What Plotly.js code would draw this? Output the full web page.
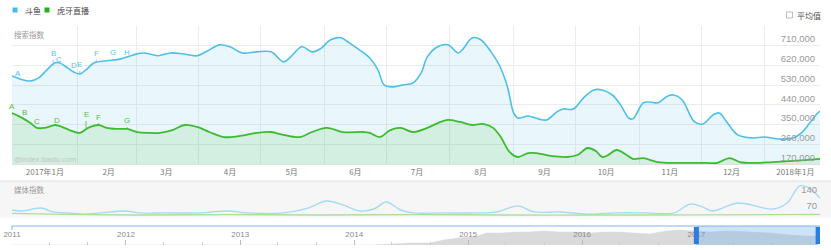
<!DOCTYPE html>
<html><head><meta charset="utf-8">
<script src="https://cdn.plot.ly/plotly-3.0.1.min.js"></script>
<style>html,body{margin:0;padding:0;background:#fff;}#chart{width:831px;height:250px;}</style>
</head><body><div id="chart"></div>
<script>
// ---------- data ----------
const seriesNames = ['斗鱼', '虎牙直播'];

const douyuDates = ['2016-12-16','2016-12-20','2016-12-25','2016-12-29','2017-01-02','2017-01-06','2017-01-08','2017-01-12','2017-01-15','2017-01-18','2017-01-21','2017-01-25','2017-01-31','2017-02-07','2017-02-13','2017-02-18','2017-02-25','2017-03-03','2017-03-09','2017-03-16','2017-03-21','2017-03-27','2017-04-01','2017-04-07','2017-04-14','2017-04-21','2017-04-27','2017-04-30','2017-05-06','2017-05-11','2017-05-15','2017-05-20','2017-05-25','2017-05-29','2017-06-03','2017-06-08','2017-06-12','2017-06-15','2017-06-19','2017-06-24','2017-06-29','2017-07-03','2017-07-06','2017-07-11','2017-07-16','2017-07-21','2017-07-23','2017-07-28','2017-08-01','2017-08-06','2017-08-10','2017-08-14','2017-08-17','2017-08-19','2017-08-24','2017-08-29','2017-09-02','2017-09-07','2017-09-10','2017-09-15','2017-09-20','2017-09-25','2017-09-29','2017-10-04','2017-10-08','2017-10-12','2017-10-14','2017-10-19','2017-10-22','2017-10-26','2017-10-31','2017-11-03','2017-11-07','2017-11-13','2017-11-17','2017-11-22','2017-11-25','2017-11-29','2017-12-04','2017-12-11','2017-12-17','2017-12-24','2017-12-31','2018-01-04','2018-01-08','2018-01-11','2018-01-13'];
const douyuValues = [572000,558000,549000,563000,600000,632000,632000,609000,590000,581000,600000,632000,641000,650000,668000,677000,664000,677000,673000,664000,686000,714000,705000,677000,682000,682000,636000,654000,705000,682000,696000,737000,746000,723000,691000,654000,600000,531000,522000,531000,540000,586000,659000,705000,714000,677000,691000,746000,737000,682000,622000,522000,403000,380000,389000,376000,371000,408000,421000,421000,472000,508000,508000,485000,440000,380000,376000,449000,453000,449000,481000,485000,462000,362000,353000,394000,403000,357000,303000,289000,293000,284000,289000,312000,357000,394000,412000];

const huyaDates = ['2016-12-16','2016-12-20','2016-12-25','2016-12-28','2017-01-01','2017-01-06','2017-01-08','2017-01-13','2017-01-18','2017-01-22','2017-01-27','2017-01-31','2017-02-05','2017-02-10','2017-02-15','2017-02-20','2017-02-26','2017-03-04','2017-03-10','2017-03-16','2017-03-22','2017-03-29','2017-04-06','2017-04-14','2017-04-21','2017-04-27','2017-05-05','2017-05-11','2017-05-18','2017-05-26','2017-06-05','2017-06-08','2017-06-13','2017-06-18','2017-06-23','2017-06-29','2017-07-06','2017-07-11','2017-07-16','2017-07-22','2017-07-28','2017-08-02','2017-08-07','2017-08-11','2017-08-15','2017-08-19','2017-08-24','2017-08-28','2017-09-04','2017-09-12','2017-09-17','2017-09-22','2017-09-26','2017-09-29','2017-10-02','2017-10-06','2017-10-11','2017-10-14','2017-10-19','2017-10-26','2017-11-03','2017-11-11','2017-11-19','2017-11-24','2017-11-30','2017-12-05','2017-12-12','2017-12-21','2017-12-31','2018-01-06','2018-01-13'];
const huyaValues = [403000,385000,357000,335000,335000,348000,344000,325000,312000,335000,348000,335000,330000,330000,316000,312000,312000,325000,348000,339000,316000,293000,298000,312000,316000,303000,293000,316000,335000,316000,316000,312000,293000,325000,335000,316000,335000,357000,371000,362000,348000,353000,335000,289000,225000,202000,220000,220000,207000,202000,211000,243000,229000,202000,211000,234000,211000,193000,197000,179000,175000,175000,175000,175000,197000,179000,175000,179000,184000,188000,193000];

const mediaDouyuDates = ['2016-12-16','2016-12-21','2016-12-30','2017-01-05','2017-01-12','2017-01-20','2017-01-28','2017-02-09','2017-02-16','2017-03-01','2017-03-17','2017-03-31','2017-04-09','2017-04-27','2017-05-09','2017-05-18','2017-05-26','2017-06-03','2017-06-10','2017-06-16','2017-06-23','2017-06-29','2017-07-14','2017-07-30','2017-08-09','2017-08-19','2017-08-27','2017-09-09','2017-09-22','2017-10-06','2017-10-19','2017-11-03','2017-11-11','2017-11-17','2017-11-22','2017-12-04','2017-12-21','2017-12-28','2018-01-03','2018-01-07','2018-01-13'];
const mediaDouyuValues = [54,50,62,46,42,37,42,50,42,42,42,50,42,42,62,91,75,50,58,87,54,42,42,42,46,71,46,46,37,42,42,42,79,66,50,83,58,83,153,149,104];
const mediaHuyaDates = ['2016-12-16','2017-01-10','2017-02-15','2017-04-01','2017-05-15','2017-07-01','2017-08-15','2017-10-01','2017-11-15','2017-12-20','2018-01-13'];
const mediaHuyaValues = [40,36,33,35,33,35,33,33,34,35,36];

const overviewDates = ['2011-01-01','2014-03-01','2014-05-01','2014-07-01','2014-09-01','2014-10-15','2014-12-01','2015-01-20','2015-03-01','2015-04-15','2015-06-01','2015-07-15','2015-09-01','2015-10-20','2015-12-10','2016-01-25','2016-03-15','2016-05-01','2016-06-15','2016-08-05','2016-09-25','2016-11-10','2016-12-28','2017-02-15','2017-04-20','2017-06-20','2017-08-25','2017-10-25','2017-12-15','2018-01-26'];
const overviewValues = [0,0,5,10,10,26,37,42,63,63,68,68,74,68,68,63,68,68,63,58,74,79,74,68,74,68,63,53,47,47];

const monthTickDates = ['2017-01-01','2017-02-01','2017-03-01','2017-04-01','2017-05-01','2017-06-01','2017-07-01','2017-08-01','2017-09-01','2017-10-01','2017-11-01','2017-12-01','2018-01-01'];
const monthTickLabels = ['2017年1月','2月','3月','4月','5月','6月','7月','8月','9月','10月','11月','12月','2018年1月'];
const gridDates = ['2017-01-17','2017-02-14 12:00','2017-03-16 12:00','2017-04-16','2017-05-17','2017-06-16','2017-07-17','2017-08-17','2017-09-16','2017-10-17','2017-11-16 12:00','2017-12-17'];
const yTickValues = [170000,260000,350000,440000,530000,620000,710000,800000];
const mediaTickValues = [70,140];
const yearTickDates = ['2011-01-01','2012-01-01','2013-01-01','2014-01-01','2015-01-01','2016-01-01','2017-01-01'];
const yearTickLabels = ['2011','2012','2013','2014','2015','2016','2017'];

const blueEventDates = ['2016-12-19','2017-01-05','2017-01-08','2017-01-15','2017-01-18','2017-01-26','2017-02-03','2017-02-10'];
const blueEventLabels = ['A','B','C','D','E','F','G','H'];
const blueEventOffsets = [-6,-9,-3,-7,-9,-9,-8,-6];
const greenEventDates = ['2016-12-16','2016-12-22','2016-12-28','2017-01-07','2017-01-21','2017-01-27','2017-02-10'];
const greenEventLabels = ['A','B','C','D','E','F','G'];
const greenEventOffsets = [-6,-4,-6,-5,-13,-8,-8];

// ---------- style ----------
const BLUE = '#4dbfeb', GREEN = '#3dbb2e';
const FONT = 'Liberation Sans, Noto Sans CJK SC, sans-serif';
const H = 250;
const py = px => 1 - px / H;            // pixel row -> paper y
const px2x = px => (px - 12) / 808;     // pixel column -> paper x

function valueAt(dates, values, d) {
  const t = new Date(d).getTime();
  let best = 0, bd = Infinity;
  dates.forEach((s, i) => { const dd = Math.abs(new Date(s).getTime() - t); if (dd < bd) { bd = dd; best = i; } });
  return values[best];
}

const traces = [
  {x: douyuDates, y: douyuValues, name: seriesNames[0], type: 'scatter', mode: 'lines',
   line: {color: BLUE, width: 1.6, shape: 'spline', smoothing: 1},
   fill: 'tozeroy', fillcolor: 'rgba(77,191,235,0.12)', xaxis: 'x', yaxis: 'y', showlegend: false, hoverinfo: 'skip'},
  {x: huyaDates, y: huyaValues, name: seriesNames[1], type: 'scatter', mode: 'lines',
   line: {color: GREEN, width: 1.8, shape: 'spline', smoothing: 1},
   fill: 'tozeroy', fillcolor: 'rgba(61,187,46,0.13)', xaxis: 'x', yaxis: 'y', showlegend: false, hoverinfo: 'skip'},
  {x: mediaDouyuDates, y: mediaDouyuValues, name: seriesNames[0], type: 'scatter', mode: 'lines',
   line: {color: '#a3dbf3', width: 1.4, shape: 'spline', smoothing: 1}, xaxis: 'x2', yaxis: 'y2', showlegend: false, hoverinfo: 'skip'},
  {x: mediaHuyaDates, y: mediaHuyaValues, name: seriesNames[1], type: 'scatter', mode: 'lines',
   line: {color: '#acdf9c', width: 1.4, shape: 'spline', smoothing: 1}, xaxis: 'x2', yaxis: 'y2', showlegend: false, hoverinfo: 'skip'},
  {x: overviewDates, y: overviewValues, type: 'scatter', mode: 'lines',
   line: {color: '#d6d6d6', width: 0.5}, fill: 'tozeroy', fillcolor: '#dadada',
   xaxis: 'x3', yaxis: 'y3', showlegend: false, hoverinfo: 'skip'},
  // transparent carrier so the overlaid label axis is drawn
  {x: [douyuDates[0]], y: [douyuValues[0]], type: 'scatter', mode: 'markers',
   marker: {opacity: 0}, xaxis: 'x', yaxis: 'y4', showlegend: false, hoverinfo: 'skip'}
];

const annotations = [];
function addEvents(dates, labels, offs, sd, sv, color) {
  dates.forEach((d, i) => annotations.push({
    xref: 'x', yref: 'y', x: d, y: valueAt(sd, sv, d), text: labels[i],
    showarrow: true, arrowhead: 0, arrowwidth: 0.8, arrowcolor: color, ax: 0, ay: offs[i], standoff: 0,
    font: {family: FONT, size: 8, color: color}
  }));
}
addEvents(blueEventDates, blueEventLabels, blueEventOffsets, douyuDates, douyuValues, '#5cc3ec');
addEvents(greenEventDates, greenEventLabels, greenEventOffsets, huyaDates, huyaValues, '#58c04a');

annotations.push(
  {xref: 'paper', yref: 'paper', x: px2x(23), y: py(10), xanchor: 'left', yanchor: 'middle', showarrow: false,
   text: seriesNames[0], font: {family: 'Noto Sans CJK SC', size: 8, color: '#444'}},
  {xref: 'paper', yref: 'paper', x: px2x(55), y: py(10), xanchor: 'left', yanchor: 'middle', showarrow: false,
   text: seriesNames[1], font: {family: 'Noto Sans CJK SC', size: 8, color: '#444'}},
  {xref: 'paper', yref: 'paper', x: px2x(795), y: py(15), xanchor: 'left', yanchor: 'middle', showarrow: false,
   text: '平均值', font: {family: 'Noto Sans CJK SC', size: 8, color: '#555'}},
  {xref: 'paper', yref: 'paper', x: px2x(12), y: py(34), xanchor: 'left', yanchor: 'middle', showarrow: false,
   text: '搜索指数', font: {family: 'Noto Sans CJK SC', size: 7.5, color: '#9a9a9a'}},
  {xref: 'paper', yref: 'paper', x: px2x(12), y: py(189), xanchor: 'left', yanchor: 'middle', showarrow: false,
   text: '媒体指数', font: {family: 'Noto Sans CJK SC', size: 7.5, color: '#9a9a9a'}},
  {xref: 'paper', yref: 'paper', x: px2x(12), y: py(159), xanchor: 'left', yanchor: 'middle', showarrow: false,
   text: '@index.baidu.com', font: {family: FONT, size: 7.5, color: '#c4c4c4'}}
);

const shapes = [
  // media panel background
  {type: 'rect', xref: 'paper', yref: 'paper', x0: px2x(0), x1: px2x(831), y0: py(218), y1: py(181),
   fillcolor: '#f6f6f6', line: {width: 0}, layer: 'below'},
  {type: 'line', xref: 'paper', yref: 'paper', x0: px2x(0), x1: px2x(831), y0: py(181), y1: py(181),
   line: {color: '#e0e0e0', width: 1}},
  // overview top border
  {type: 'line', xref: 'paper', yref: 'paper', x0: 0, x1: 1, y0: py(226), y1: py(226), line: {color: '#82b3e6', width: 1}},
  {type: 'line', xref: 'paper', yref: 'paper', x0: 0, x1: 0, y0: py(226), y1: py(230), line: {color: '#82b3e6', width: 1}},
  // overview selection window
  {type: 'rect', xref: 'x3', yref: 'paper', x0: '2017-01-01', x1: '2018-01-26', y0: py(245), y1: py(226),
   fillcolor: 'rgba(110,175,235,0.35)', line: {width: 0}},
  {type: 'rect', xref: 'x3', xsizemode: 'pixel', xanchor: '2017-01-01', x0: -2.5, x1: 2.5, yref: 'paper', y0: py(244), y1: py(227),
   fillcolor: '#2b7ee0', line: {width: 0}},
  {type: 'rect', xref: 'x3', xsizemode: 'pixel', xanchor: '2018-01-26', x0: -2.5, x1: 2.5, yref: 'paper', y0: py(244), y1: py(227),
   fillcolor: '#2b7ee0', line: {width: 0}},
  // legend swatches
  {type: 'rect', xref: 'paper', yref: 'paper', x0: px2x(12.5), x1: px2x(17.5), y0: py(12.5), y1: py(7.5),
   fillcolor: '#3fbef0', line: {width: 0}},
  {type: 'rect', xref: 'paper', yref: 'paper', x0: px2x(44.5), x1: px2x(49.5), y0: py(12.5), y1: py(7.5),
   fillcolor: '#22b21c', line: {width: 0}},
  // checkbox
  {type: 'rect', xref: 'paper', yref: 'paper', x0: px2x(786.5), x1: px2x(792.5), y0: py(18), y1: py(12),
   fillcolor: '#fff', line: {color: '#aaa', width: 0.8}}
];

const layout = {
  width: 831, height: 250,
  margin: {l: 12, r: 11, t: 0, b: 0, pad: 0},
  paper_bgcolor: '#fff', plot_bgcolor: 'rgba(0,0,0,0)',
  font: {family: FONT, size: 9, color: '#888'},
  showlegend: false,
  xaxis: {
    domain: [0, 1], anchor: 'y', type: 'date', range: ['2016-12-16', '2018-01-13'],
    tickmode: 'array', tickvals: monthTickDates, ticktext: monthTickLabels,
    showgrid: false, zeroline: false, ticks: '', ticklabeloverflow: 'allow',
    minor: {tickmode: 'array', tickvals: gridDates, showgrid: true, gridcolor: '#ececec', gridwidth: 1, ticks: ''},
    showline: true, linecolor: '#e0e0e0', linewidth: 1,
    tickfont: {family: 'Noto Sans CJK SC, Liberation Sans', size: 8, color: '#7a7a7a'},
    fixedrange: true
  },
  // grid-only value axis for the main panel
  yaxis: {
    domain: [py(164), py(26)], anchor: 'x', range: [170000, 800000], side: 'right',
    tickmode: 'array', tickvals: yTickValues, showticklabels: false, ticks: '',
    showgrid: true, gridcolor: '#ececec', gridwidth: 1, zeroline: false, showline: false, fixedrange: true
  },
  // label axis: placed at the right edge, labels extend leftwards into the panel, above their grid lines
  yaxis4: {
    overlaying: 'y', anchor: 'free', position: 0.994, side: 'left', range: [170000, 800000],
    tickmode: 'array', tickvals: yTickValues,
    ticktext: yTickValues.map(v => v === 800000 ? '' : v.toLocaleString('en-US')),
    ticklabelposition: 'outside top', ticks: '', showgrid: false, zeroline: false, showline: false,
    tickfont: {family: FONT, size: 9.5, color: '#9a9a9a'}, fixedrange: true
  },
  xaxis2: {
    domain: [0, 1], anchor: 'y2', type: 'date', range: ['2016-12-16', '2018-01-13'],
    showticklabels: false, showgrid: false, zeroline: false, showline: false, ticks: '', fixedrange: true
  },
  yaxis2: {
    domain: [py(217), py(182)], anchor: 'x2', range: [25, 170], side: 'right',
    tickmode: 'array', tickvals: mediaTickValues, ticklabelposition: 'inside', ticks: '',
    showgrid: false, zeroline: false, showline: false,
    tickfont: {family: FONT, size: 9.5, color: '#9a9a9a'}, fixedrange: true
  },
  xaxis3: {
    domain: [0, 1], anchor: 'y3', type: 'date', range: ['2011-01-01', '2018-02-01'],
    tickmode: 'array', tickvals: yearTickDates, ticktext: yearTickLabels,
    ticks: 'inside', ticklen: 5, tickcolor: '#bbbbbb', tickwidth: 1,
    ticklabelposition: 'inside', ticklabeloverflow: 'allow',
    minor: {tickmode: 'linear', tick0: '2011-01-01', dtick: 'M4', ticks: 'inside', ticklen: 3, tickcolor: '#cccccc', showgrid: false},
    showgrid: false, zeroline: false, showline: false,
    tickfont: {family: FONT, size: 8, color: '#8a8a8a'}, fixedrange: true
  },
  yaxis3: {
    domain: [py(245), py(226)], anchor: 'x3', range: [0, 100], visible: false, fixedrange: true
  },
  shapes: shapes,
  annotations: annotations
};

Plotly.newPlot('chart', traces, layout, {displayModeBar: false, staticPlot: true});
</script>
</body></html>
